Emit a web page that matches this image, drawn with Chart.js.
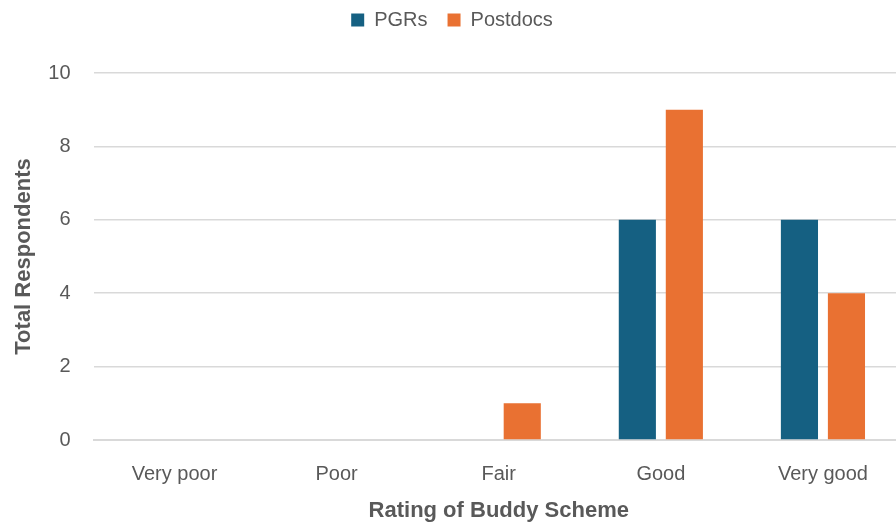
<!DOCTYPE html>
<html lang="en">
<head>
  <meta charset="utf-8">
  <title>Rating of Buddy Scheme</title>
  <script src="https://cdn.jsdelivr.net/npm/chart.js"></script>
  <style>
    html, body { margin: 0; padding: 0; background: #fff; overflow: hidden; }
    #wrap { position: relative; top: -10px; width: 904px; height: 537px; }
  </style>
</head>
<body>
  <div id="wrap"><canvas id="chart"></canvas></div>

  <script>
    // Data
    const categories = ['Very poor', 'Poor', 'Fair', 'Good', 'Very good'];
    const pgrs = [0, 0, 0, 6, 6];
    const postdocs = [0, 0, 1, 9, 4];
    const yTicks = [0, 2, 4, 6, 8, 10];

    const textGrey = '#595959';
    const gridGrey = '#d9d9d9';

    // force legend box height so the plot area starts where the reference does
    const legendHeight = {
      id: 'legendHeight',
      beforeInit(chart) {
        const fit = chart.legend.fit;
        chart.legend.fit = function () {
          fit.bind(chart.legend)();
          this.height = 83;
        };
      }
    };

    new Chart(document.getElementById('chart'), {
      type: 'bar',
      data: {
        labels: categories,
        datasets: [
          { label: 'PGRs', data: pgrs, backgroundColor: '#156082' },
          { label: 'Postdocs', data: postdocs, backgroundColor: '#E97132' }
        ]
      },
      options: {
        responsive: true,
        maintainAspectRatio: false,
        animation: false,
        layout: { padding: 0 },
        datasets: {
          bar: { categoryPercentage: 0.58, barPercentage: 0.79 }
        },
        plugins: {
          legend: {
            position: 'top',
            labels: {
              boxWidth: 13,
              boxHeight: 13,
              padding: 20,
              color: textGrey,
              font: { family: 'Liberation Sans', size: 20 }
            }
          },
          tooltip: { enabled: false }
        },
        scales: {
          x: {
            grid: { display: false, drawTicks: false },
            border: { display: true, color: gridGrey, width: 2 },
            ticks: {
              color: textGrey,
              padding: 22,
              font: { family: 'Liberation Sans', size: 20 }
            },
            title: {
              display: true,
              text: 'Rating of Buddy Scheme',
              color: textGrey,
              padding: { top: 4, bottom: 3 },
              font: { family: 'Liberation Sans', size: 22, weight: 'bold' }
            },
            afterFit(scale) { scale.height = 87; }
          },
          y: {
            min: 0,
            max: 10,
            afterBuildTicks(scale) { scale.ticks = yTicks.map(v => ({ value: v })); },
            grid: { color: gridGrey, lineWidth: 1.5, drawTicks: false },
            border: { display: false },
            ticks: {
              color: textGrey,
              padding: 23,
              font: { family: 'Liberation Sans', size: 20 }
            },
            title: {
              display: true,
              text: 'Total Respondents',
              color: textGrey,
              padding: { top: 11, bottom: 0 },
              font: { family: 'Liberation Sans', size: 22, weight: 'bold' }
            },
            afterFit(scale) { scale.width = 93.5; }
          }
        }
      },
      plugins: [legendHeight]
    });
  </script>
</body>
</html>
